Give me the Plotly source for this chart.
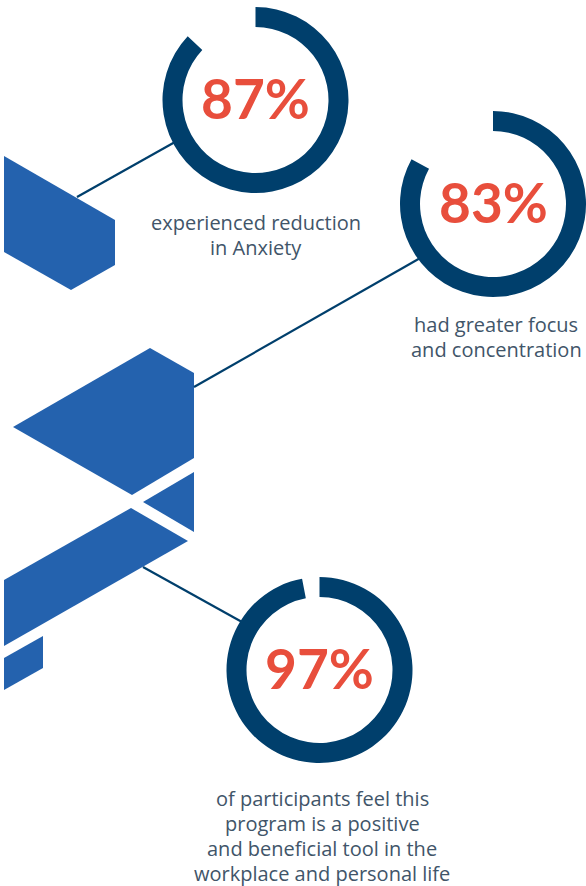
import plotly.graph_objects as go

W, H = 586, 886

# ---- data ----
percent_values = [87, 83, 97]
captions = [
    ["experienced reduction", "in Anxiety"],
    ["had greater focus", "and concentration"],
    ["of participants feel this", "program is a positive", "and beneficial tool in the", "workplace and personal life"],
]

# ---- layout geometry (pixels, y down) ----
centers = [(255.5, 100), (493, 204), (319.5, 670)]
outer_r = 93
inner_r = 73
caption_top = [222, 324, 798]
caption_cx = [255.5, 496, 322]

NAVY = "#003F6C"
RED = "#E84E3C"
BLUE = "#2462AE"
TEXT = "#415569"

deco_polys = [
    [(4, 156), (115, 220), (115, 265), (71, 290), (4, 252)],
    [(150, 348), (194, 373), (194, 458), (132, 495), (13, 427)],
    [(194, 472), (194, 532), (143, 502)],
    [(131, 508), (188, 541), (4, 646), (4, 580)],
    [(43, 636), (43, 668), (4, 690), (4, 658)],
]
connectors = [
    [(77, 197), (175, 142)],
    [(194, 387), (422, 257)],
    [(143, 567), (242, 622)],
]

fig = go.Figure()

def clamp(v):
    return min(1.0, max(0.0, v))

# donuts
for v, (cx, cy) in zip(percent_values, centers):
    fig.add_trace(go.Pie(
        values=[v, 100 - v],
        hole=inner_r / outer_r,
        sort=False,
        direction="clockwise",
        rotation=0,
        marker=dict(colors=[NAVY, "rgba(0,0,0,0)"], line=dict(width=0)),
        textinfo="none",
        hoverinfo="skip",
        showlegend=False,
        domain=dict(x=[clamp((cx - outer_r) / W), clamp((cx + outer_r) / W)],
                    y=[clamp(1 - (cy + outer_r) / H), clamp(1 - (cy - outer_r) / H)]),
    ))

shapes = []
for poly in deco_polys:
    path = "M " + " L ".join(f"{x},{y}" for x, y in poly) + " Z"
    shapes.append(dict(type="path", path=path, xref="x", yref="y",
                       fillcolor=BLUE, line=dict(width=0), layer="below"))
for (x0, y0), (x1, y1) in connectors:
    shapes.append(dict(type="line", x0=x0, y0=y0, x1=x1, y1=y1, xref="x", yref="y",
                       line=dict(color=NAVY, width=2.2), layer="below"))

annotations = []
for v, (cx, cy) in zip(percent_values, centers):
    annotations.append(dict(x=cx, y=cy - 2, xref="x", yref="y", text=f"{v}%",
                            showarrow=False, xanchor="center", yanchor="middle",
                            font=dict(family="Lato", size=55, color=RED, weight="bold")))
for lines, top, cx in zip(captions, caption_top, caption_cx):
    for i, ln in enumerate(lines):
        annotations.append(dict(x=cx, y=top + i * 25.3, xref="x", yref="y", text=ln,
                                showarrow=False, xanchor="center", yanchor="middle",
                                font=dict(family="Open Sans", size=20, color=TEXT)))

fig.update_layout(
    width=W, height=H,
    margin=dict(l=0, r=0, t=0, b=0),
    paper_bgcolor="white", plot_bgcolor="white",
    xaxis=dict(range=[0, W], visible=False, fixedrange=True),
    yaxis=dict(range=[H, 0], visible=False, fixedrange=True),
    shapes=shapes, annotations=annotations,
)

fig.write_html("out.html")
